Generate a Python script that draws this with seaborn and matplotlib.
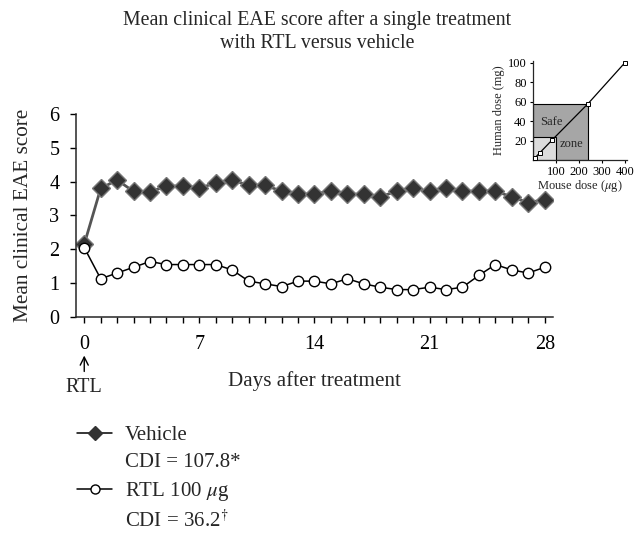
import matplotlib
matplotlib.use("Agg")
import matplotlib.pyplot as plt
import seaborn as sns
import pandas as pd
from matplotlib.lines import Line2D
from matplotlib.patches import Rectangle

# ---- data ----
days = list(range(29))
vehicle = [2.15, 3.80, 4.05, 3.71, 3.70, 3.87, 3.87, 3.81, 3.96, 4.05, 3.89, 3.89,
           3.72, 3.63, 3.63, 3.73, 3.63, 3.63, 3.55, 3.72, 3.80, 3.72, 3.80, 3.72,
           3.72, 3.72, 3.55, 3.38, 3.47]
rtl = [2.05, 1.13, 1.30, 1.47, 1.64, 1.55, 1.55, 1.55, 1.55, 1.39, 1.06, 0.98,
       0.90, 1.06, 1.06, 0.98, 1.13, 0.98, 0.88, 0.81, 0.81, 0.88, 0.81, 0.88,
       1.23, 1.55, 1.39, 1.30, 1.47]
xtick_labels = ["0", "7", "14", "21", "28"]
yticks = [0, 1, 2, 3, 4, 5, 6]

mouse_dose = [10, 30, 85, 240, 400]
human_dose = [2.5, 7.5, 21, 58, 100]
light_zone = (100, 24)   # mouse, human
dark_zone = (240, 58)
inset_xticks = [100, 200, 300, 400]
inset_yticks = [20, 40, 60, 80, 100]

labels = ["Vehicle", "CDI = 107.8*", "RTL 100 $\\mu$g", "CDI = 36.2$^{\\dagger}$"]

# ---- style ----
sns.set_style("ticks")
plt.rcParams["font.family"] = ["Liberation Serif", "DejaVu Serif"]
plt.rcParams["mathtext.fontset"] = "stix"
plt.rcParams["axes.linewidth"] = 1.1

fig = plt.figure(figsize=(6.41, 5.36), dpi=100)
ax = fig.add_axes([0.1186, 0.4086, 0.744, 0.3787])

df = pd.DataFrame({"day": days, "vehicle": vehicle, "rtl": rtl})
sns.lineplot(data=df, x="day", y="rtl", ax=ax, color="black", lw=1.1,
             marker="o", markersize=7.5, markerfacecolor="white",
             markeredgecolor="black", markeredgewidth=1.0, zorder=3)
sns.lineplot(data=df, x="day", y="vehicle", ax=ax, color="#555555", lw=2.0,
             marker="D", markersize=9, markerfacecolor="#333333",
             markeredgecolor="#777777", markeredgewidth=1.0, zorder=2)

ax.set_xlim(-0.5, 28.5)
ax.set_ylim(0, 6)
ax.set_yticks(yticks)
ax.set_xticks(days)
ax.set_xticklabels([str(d) if str(d) in xtick_labels else "" for d in days])
ax.tick_params(axis="both", direction="out", length=4, width=1.0,
               labelsize=14.5, colors="black")
ax.tick_params(axis="x", pad=9)
ax.tick_params(axis="y", pad=8)
sns.despine(ax=ax)
ax.set_xlabel("Days after treatment", fontsize=15.2, labelpad=12)
ax.set_ylabel("Mean clinical EAE score", fontsize=15.3, labelpad=12)

ax.annotate("RTL", xy=(0, -0.19), xycoords=ax.get_xaxis_transform(),
            xytext=(0, -0.345), textcoords=ax.get_xaxis_transform(),
            ha="center", va="center", fontsize=14.5,
            arrowprops=dict(arrowstyle="->", lw=1.0, color="black",
                            shrinkA=2, shrinkB=0))

fig.text(0.495, 0.981, "Mean clinical EAE score after a single treatment\nwith RTL versus vehicle",
         ha="center", va="top", fontsize=14.3, linespacing=1.3)

# ---- inset ----
axi = fig.add_axes([0.8315, 0.7015, 0.1466, 0.1847])
axi.add_patch(Rectangle((0, 0), dark_zone[0], dark_zone[1], facecolor="#a6a6a6",
                        edgecolor="black", lw=0.8, zorder=1))
axi.add_patch(Rectangle((0, 0), light_zone[0], light_zone[1], facecolor="#dcdcdc",
                        edgecolor="black", lw=0.8, zorder=1))
sns.lineplot(x=mouse_dose, y=human_dose, ax=axi, color="black", lw=0.9,
             marker="s", markersize=3.5, markerfacecolor="white",
             markeredgecolor="black", markeredgewidth=0.7, zorder=3)
axi.text(80, 39, "Safe", ha="center", va="center", fontsize=9)
axi.text(168, 16, "zone", ha="center", va="center", fontsize=9)
axi.set_xlim(0, 410)
axi.set_ylim(0, 102)
axi.set_xticks(inset_xticks)
axi.set_yticks(inset_yticks)
axi.tick_params(axis="both", direction="out", length=2.5, width=0.8,
                labelsize=9, pad=2, colors="black")
axi.spines["left"].set_linewidth(0.9)
axi.spines["bottom"].set_linewidth(0.9)
sns.despine(ax=axi)
axi.patch.set_alpha(0)
axi.set_xlabel("Mouse dose ($\\mu$g)", fontsize=9, labelpad=0)
axi.set_ylabel("Human dose (mg)", fontsize=9, labelpad=2)

# ---- legend ----
handles = [
    Line2D([], [], color="black", lw=1.1, marker="D", markersize=7.5,
           markerfacecolor="#333333", markeredgecolor="#333333"),
    Line2D([], [], linestyle="none"),
    Line2D([], [], color="black", lw=1.1, marker="o", markersize=6.5,
           markerfacecolor="white", markeredgecolor="black"),
    Line2D([], [], linestyle="none"),
]
fig.legend(handles, labels, loc="upper left", bbox_to_anchor=(0.104, 0.226),
           frameon=False, fontsize=15, handlelength=1.7, handletextpad=0.6,
           labelspacing=0.37, borderpad=0)

fig.savefig("out.png", dpi=100)
